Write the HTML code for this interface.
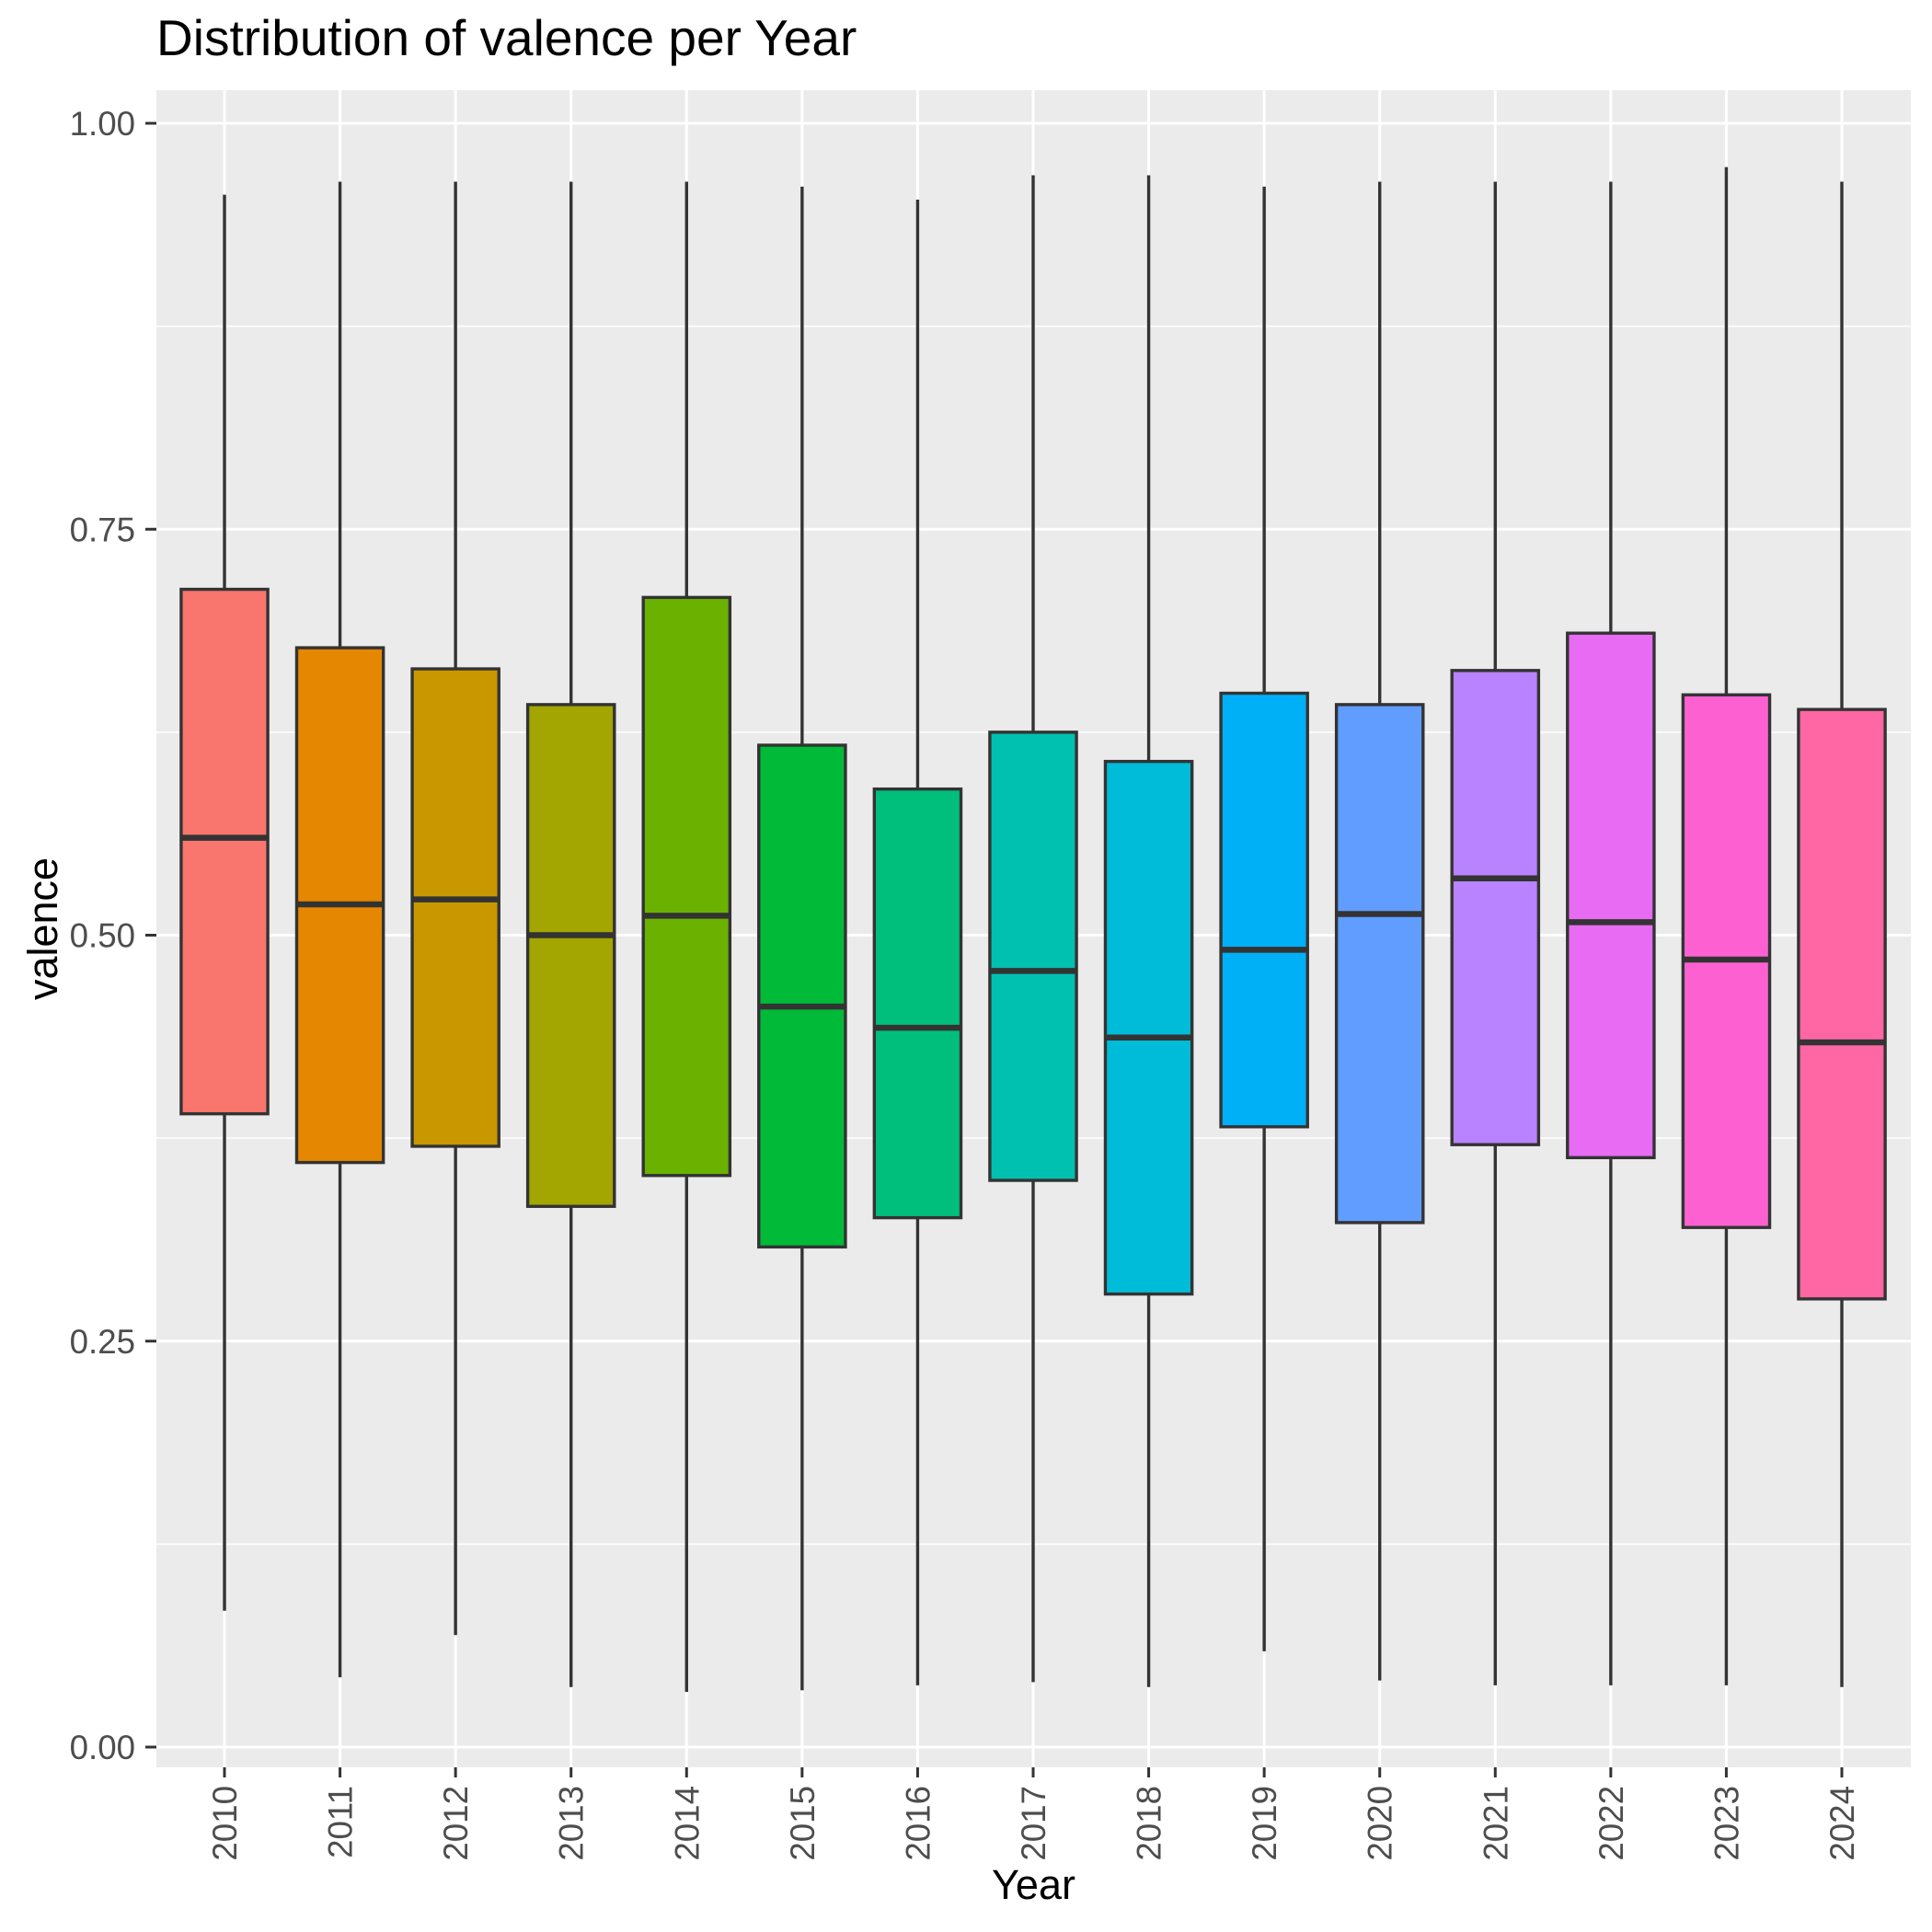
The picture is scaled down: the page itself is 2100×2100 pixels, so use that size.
<!DOCTYPE html>
<html><head><meta charset="utf-8"><style>body{margin:0;background:#fff}svg{display:block}</style></head>
<body>
<svg id="chart" width="2100" height="2100" xmlns="http://www.w3.org/2000/svg" font-family="'Liberation Sans', sans-serif"></svg>
<script>
const years = ['2010','2011','2012','2013','2014','2015','2016','2017','2018','2019','2020','2021','2022','2023','2024'];
const whiskerHigh = [0.956,0.964,0.964,0.964,0.964,0.961,0.953,0.968,0.968,0.961,0.964,0.964,0.964,0.973,0.964];
const q3 = [0.713,0.677,0.664,0.642,0.708,0.617,0.590,0.625,0.607,0.649,0.642,0.663,0.686,0.648,0.639];
const medians = [0.560,0.519,0.522,0.500,0.512,0.456,0.443,0.478,0.437,0.491,0.513,0.535,0.508,0.485,0.434];
const q1 = [0.390,0.360,0.370,0.333,0.352,0.308,0.326,0.349,0.279,0.382,0.323,0.371,0.363,0.320,0.276];
const whiskerLow = [0.084,0.043,0.069,0.037,0.034,0.035,0.038,0.040,0.037,0.059,0.041,0.038,0.038,0.038,0.037];
const fills = ['#F8766D','#E58700','#C99800','#A3A500','#6BB100','#00BA38','#00BF7D','#00C0AF','#00BCD8','#00B0F6','#619CFF','#B983FF','#E76BF3','#FD61D1','#FF67A4'];
const yTicks = [0,0.25,0.5,0.75,1.0];
const yTickLabels = ['0.00','0.25','0.50','0.75','1.00'];
const yMinor = [0.125,0.375,0.625,0.875];

const svg = document.getElementById('chart');
const NS = 'http://www.w3.org/2000/svg';
const L=170,R=2077,T=98,B=1921;
const y = v => 1899 - v*1765;
const step = (2002-244)/(years.length-1);
const x = i => 244 + i*step;
function mk(tag, attrs, parent){const e=document.createElementNS(NS,tag);for(const k in attrs)e.setAttribute(k,attrs[k]);(parent||svg).appendChild(e);return e;}

const panel = mk('rect',{x:L,y:T,width:R-L,height:B-T,fill:'#EBEBEB'});


yMinor.forEach(v=>{const g=mk('line',{x1:L,x2:R,y1:y(v),y2:y(v),stroke:'#fff','stroke-width':1.5});

});
yTicks.forEach((v,i)=>{const g=mk('line',{x1:L,x2:R,y1:y(v),y2:y(v),stroke:'#fff','stroke-width':3});


const t=mk('line',{x1:158,x2:L,y1:y(v),y2:y(v),stroke:'#333','stroke-width':3});


const lb=mk('text',{x:147,y:y(v)+13,'text-anchor':'end','font-size':36.7,fill:'#4D4D4D'});lb.textContent=yTickLabels[i];

});
years.forEach((yr,i)=>{const g=mk('line',{x1:x(i),x2:x(i),y1:T,y2:B,stroke:'#fff','stroke-width':3});


const t=mk('line',{x1:x(i),x2:x(i),y1:B,y2:B+11,stroke:'#333','stroke-width':3});


const lb=mk('text',{'text-anchor':'end','font-size':36.7,fill:'#4D4D4D',transform:`translate(${x(i)+13},${B+20}) rotate(-90)`});lb.textContent=yr;

});
const bw = step*0.75;
years.forEach((yr,i)=>{
 const g=mk('g',{});
 
 
 mk('line',{x1:x(i),x2:x(i),y1:y(whiskerHigh[i]),y2:y(q3[i]),stroke:'#333','stroke-width':3.4},g);
 mk('line',{x1:x(i),x2:x(i),y1:y(q1[i]),y2:y(whiskerLow[i]),stroke:'#333','stroke-width':3.4},g);
 mk('rect',{x:x(i)-bw/2,y:y(q3[i]),width:bw,height:y(q1[i])-y(q3[i]),fill:fills[i],stroke:'#333','stroke-width':3.4},g);
 mk('line',{x1:x(i)-bw/2,x2:x(i)+bw/2,y1:y(medians[i]),y2:y(medians[i]),stroke:'#333','stroke-width':6.5},g);
});
const title=mk('text',{x:170,y:60,'font-size':55,fill:'#000'});title.textContent='Distribution of valence per Year';


const xt=mk('text',{x:(L+R)/2,y:2064,'text-anchor':'middle','font-size':45,fill:'#000'});xt.textContent='Year';


const yt=mk('text',{'text-anchor':'middle','font-size':45,fill:'#000',transform:`translate(62,${(T+B)/2}) rotate(-90)`});yt.textContent='valence';


</script>
</body></html>
